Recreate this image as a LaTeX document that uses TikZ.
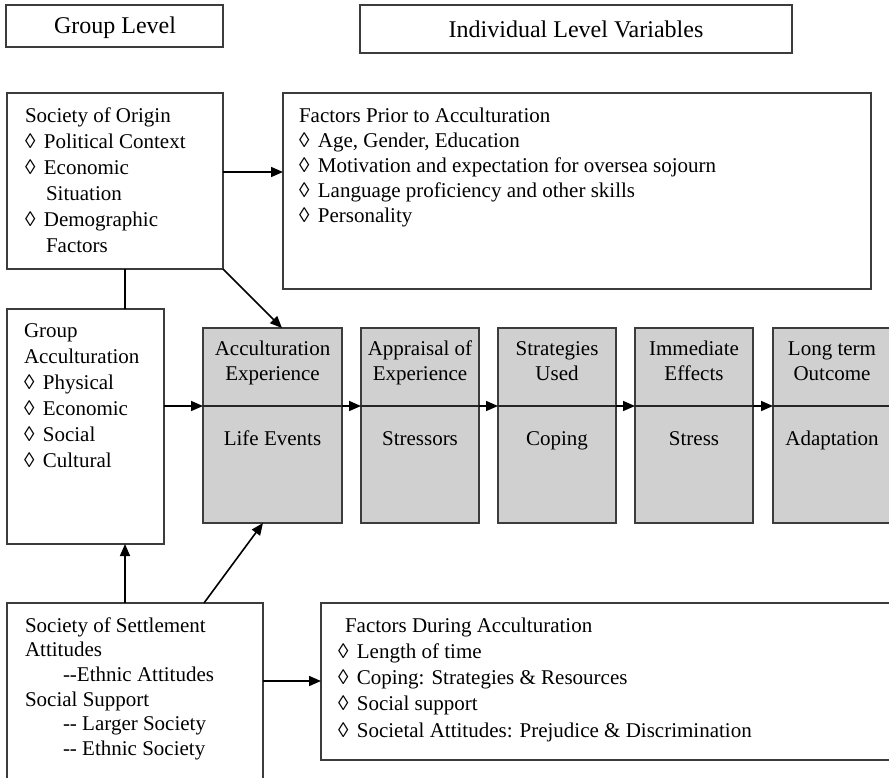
\documentclass[tikz,border=0pt]{standalone}
\usepackage{fontspec}
\setmainfont{Liberation Serif}
\usetikzlibrary{arrows.meta}
\definecolor{boxgray}{RGB}{208,208,208}
\definecolor{edgecol}{RGB}{60,60,60}
\newcommand{\lozA}{◊\hspace{8.5pt}}
\newcommand{\dd}{\mbox{-}\mbox{-}}
\tikzset{
  box/.style={draw=edgecol, line width=1.3pt, inner sep=0pt, outer sep=0pt, anchor=north west},
  gbox/.style={box, fill=boxgray},
  txt/.style={inner sep=0pt, outer sep=0pt},
  arr/.style={line width=1.6pt, -{Triangle[length=12pt,width=10pt]}},
  plainline/.style={line width=1.6pt},
  divline/.style={line width=1.4pt, draw=black!85},
}
\begin{document}
\begin{tikzpicture}[x=1pt,y=-1pt]
\useasboundingbox (0,0) rectangle (889,777);
\clip (0,0) rectangle (889,777);
% helper coordinates
\coordinate (mid) at (0,406);
\coordinate (lvA) at (0,172);
\coordinate (lvB) at (0,681);
\coordinate (cx) at (125,0);
\coordinate (tipA) at (282,0);
\coordinate (sA) at (204,0);
\coordinate (sB) at (263,0);
% header boxes
\node[box, minimum width=217pt, minimum height=42pt] (hgroup) at (6,5) {};
\node[box, minimum width=432pt, minimum height=48pt] (hind) at (360,5) {};
\node[txt, anchor=base, font=\fontsize{24}{28}\selectfont] (thgroup) at (115,33) {Group Level};
\node[txt, anchor=base, font=\fontsize{24}{28}\selectfont] (thind) at (576,37) {Individual Level Variables};
% main boxes
\node[box, minimum width=216pt, minimum height=176pt] (origin) at (7,93) {};
\node[box, minimum width=588pt, minimum height=196pt] (prior) at (283,93) {};
\node[box, minimum width=157pt, minimum height=235pt] (gacc) at (7,309) {};
\node[box, minimum width=256pt, minimum height=200pt] (settle) at (7,603) {};
\node[box, minimum width=600pt, minimum height=157pt] (during) at (321,603) {};
% grey boxes
\node[gbox, minimum width=139pt, minimum height=195pt] (b1) at (203,328) {};
\node[gbox, minimum width=118pt, minimum height=195pt] (b2) at (361,328) {};
\node[gbox, minimum width=118pt, minimum height=195pt] (b3) at (498,328) {};
\node[gbox, minimum width=118pt, minimum height=195pt] (b4) at (635,328) {};
\node[gbox, minimum width=118pt, minimum height=195pt] (b5) at (773,328) {};
\foreach \b in {b1,b2,b3,b4,b5}{
  \draw[divline] (\b.west |- mid) -- (\b.east |- mid);
}
% texts
\node[txt, anchor=base west, font=\fontsize{21}{26}\selectfont] (torigin) at (25,122)
  {\parbox[t]{195pt}{\raggedright Society of Origin\\ \lozA Political Context\\ \lozA Economic\\ \hspace*{21pt}Situation\\ \lozA Demographic\\ \hspace*{21pt}Factors}};
\node[txt, anchor=base west, font=\fontsize{21}{25}\selectfont] (tprior) at (299,122)
  {\parbox[t]{560pt}{\raggedright Factors Prior to Acculturation\\ \lozA Age, Gender, Education\\ \lozA Motivation and expectation for oversea sojourn\\ \lozA Language proficiency and other skills\\ \lozA Personality}};
\node[txt, anchor=base west, font=\fontsize{21}{26}\selectfont] (tgacc) at (24,337)
  {\parbox[t]{138pt}{\raggedright Group\\ Acculturation\\ \lozA Physical\\ \lozA Economic\\ \lozA Social\\ \lozA Cultural}};
\node[txt, anchor=base west, font=\fontsize{21}{24.7}\selectfont] (tsettle) at (25,632)
  {\parbox[t]{235pt}{\raggedright Society of Settlement\\ Attitudes\\ \hspace*{38pt}\dd Ethnic Attitudes\\ Social Support\\ \hspace*{38pt}\dd{} Larger Society\\ \hspace*{38pt}\dd{} Ethnic Society}};
\node[txt, anchor=base west, font=\fontsize{21}{26.3}\selectfont] (tduring) at (338,632)
  {\parbox[t]{540pt}{\raggedright \hspace*{7pt}Factors During Acculturation\\ \lozA Length of time\\ \lozA Coping: Strategies \& Resources\\ \lozA Social support\\ \lozA Societal Attitudes: Prejudice \& Discrimination}};
% grey box texts
\node[txt, anchor=base, font=\fontsize{21}{25}\selectfont] (t1a) at (b1.north |- 0,355) {\parbox[t]{136pt}{\centering Acculturation\\Experience}};
\node[txt, anchor=base, font=\fontsize{21}{25}\selectfont] (t2a) at (b2.north |- 0,355) {\parbox[t]{116pt}{\centering Appraisal of\\Experience}};
\node[txt, anchor=base, font=\fontsize{21}{25}\selectfont] (t3a) at (b3.north |- 0,355) {\parbox[t]{116pt}{\centering Strategies\\Used}};
\node[txt, anchor=base, font=\fontsize{21}{25}\selectfont] (t4a) at (b4.north |- 0,355) {\parbox[t]{116pt}{\centering Immediate\\Effects}};
\node[txt, anchor=base, font=\fontsize{21}{25}\selectfont] (t5a) at (b5.north |- 0,355) {\parbox[t]{116pt}{\centering Long term\\Outcome}};
\node[txt, anchor=base, font=\fontsize{21}{25}\selectfont] (t1b) at (b1.north |- 0,445) {Life Events};
\node[txt, anchor=base, font=\fontsize{21}{25}\selectfont] (t2b) at (b2.north |- 0,445) {Stressors};
\node[txt, anchor=base, font=\fontsize{21}{25}\selectfont] (t3b) at (b3.north |- 0,445) {Coping};
\node[txt, anchor=base, font=\fontsize{21}{25}\selectfont] (t4b) at (b4.north |- 0,445) {Stress};
\node[txt, anchor=base, font=\fontsize{21}{25}\selectfont] (t5b) at (b5.north |- 0,445) {Adaptation};
% connectors
\draw[arr] (origin.east |- lvA) -- (prior.west |- lvA);
\draw[plainline] (origin.south -| cx) -- (gacc.north -| cx);
\draw[arr] (origin.south east) -- (b1.north -| tipA);
\draw[arr] (gacc.east |- mid) -- (b1.west |- mid);
\draw[arr] (b1.east |- mid) -- (b2.west |- mid);
\draw[arr] (b2.east |- mid) -- (b3.west |- mid);
\draw[arr] (b3.east |- mid) -- (b4.west |- mid);
\draw[arr] (b4.east |- mid) -- (b5.west |- mid);
\draw[arr] (settle.north -| cx) -- (gacc.south -| cx);
\draw[arr] (settle.north -| sA) -- (b1.south -| sB);
\draw[arr] (settle.east |- lvB) -- (during.west |- lvB);
\end{tikzpicture}
\end{document}
